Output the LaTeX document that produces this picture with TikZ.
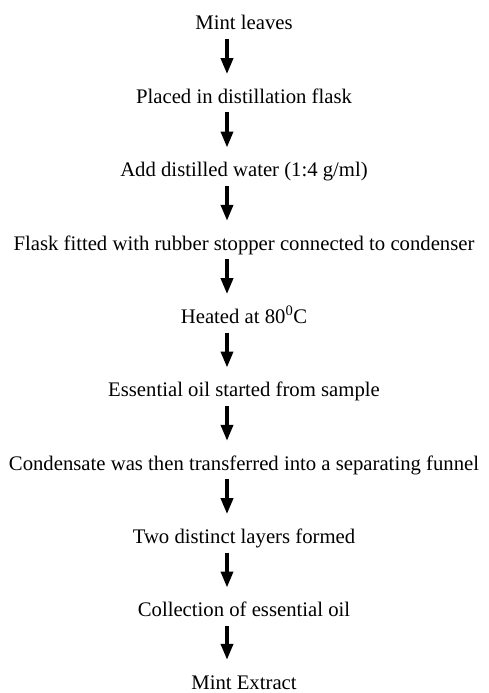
\documentclass[tikz,border=0pt]{standalone}
\usepackage{fontspec}
\setmainfont{Liberation Serif}
\usetikzlibrary{arrows.meta,positioning,calc}

\begin{document}
\begin{tikzpicture}[x=1bp,y=1bp,
  steptext/.style={anchor=base,inner sep=0pt,text height=15bp,text depth=4.5bp,font=\fontsize{20.8}{24}\selectfont},
  flowarrow/.style={-{Triangle[width=12bp,length=16bp]},line width=3.6bp,shorten <=4.5bp,shorten >=14bp}]

  % page frame
  \useasboundingbox (0,0) rectangle (489,-693);

  % steps
  \node[steptext] (leaves) at (244,-30) {Mint leaves};
  \node[steptext] (flask) at (244,-103.3) {Placed in distillation flask};
  \node[steptext] (water) at (244,-176.7) {Add distilled water (1:4 g/ml)};
  \node[steptext] (stopper) at (244,-250) {Flask fitted with rubber stopper connected to condenser};
  \node[steptext] (heat) at (244,-323.3) {Heated at 80\textsuperscript{0}C};
  \node[steptext] (oil) at (244,-396.7) {Essential oil started from sample};
  \node[steptext] (funnel) at (244,-470) {Condensate was then transferred into a separating funnel};
  \node[steptext] (layers) at (244,-543.3) {Two distinct layers formed};
  \node[steptext] (collect) at (244,-616.7) {Collection of essential oil};
  \node[steptext,text depth=0bp] (extract) at (244,-689) {Mint Extract};

  % arrows
  \foreach \a/\b in {leaves/flask,flask/water,water/stopper,stopper/heat,heat/oil,oil/funnel,funnel/layers,layers/collect,collect/extract}
    \draw[flowarrow] ($(\a.south)+(-17,0)$) -- ($(\b.north)+(-17,0)$);
\end{tikzpicture}
\end{document}
